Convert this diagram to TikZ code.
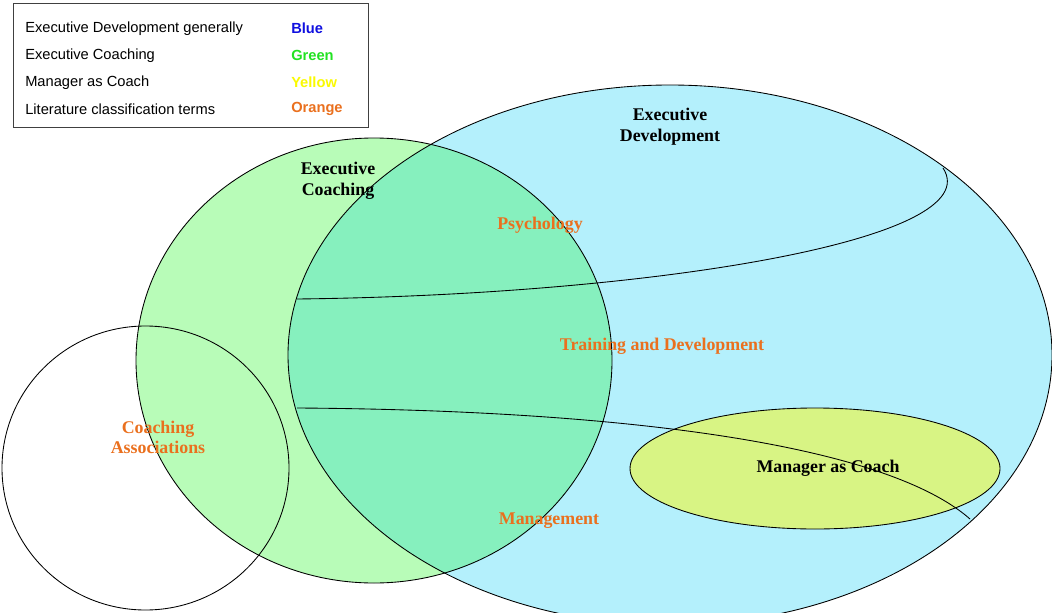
\documentclass[tikz,border=0pt]{standalone}
\usepackage{fontspec}
\setmainfont{Liberation Serif}
\setsansfont{Liberation Sans}
\usetikzlibrary{positioning}
\definecolor{devblue}{RGB}{180,240,252}
\definecolor{coachgreen}{RGB}{184,252,184}
\definecolor{overlapgreen}{RGB}{134,240,190}
\definecolor{mgryellow}{RGB}{216,244,132}
\definecolor{termorange}{RGB}{234,112,30}
\definecolor{keyblue}{RGB}{16,16,224}
\definecolor{keygreen}{RGB}{34,226,34}
\definecolor{keyyellow}{RGB}{250,250,0}

\begin{document}
\begin{tikzpicture}[
    x=0.75pt, y=-0.75pt,
    outline/.style={draw=black, line width=0.65pt},
    title/.style={align=center, inner sep=0pt, font=\bfseries\fontsize{13.4}{15.5}\selectfont},
    term/.style={title, text=termorange},
    key/.style={anchor=west, inner sep=0pt, font=\sffamily\fontsize{11}{13}\selectfont},
    keycol/.style={key, font=\sffamily\bfseries\fontsize{11}{13}\selectfont}
]
\useasboundingbox (0,0) rectangle (1052,613);

% Areas
\coordinate (dev) at (670,355);
\coordinate (coach) at (374,360.5);
\coordinate (assoc) at (145.5,468);
\coordinate (mgr) at (815,468.5);

\fill[devblue] (dev) ellipse [x radius=382, y radius=270];
\fill[coachgreen] (coach) ellipse [x radius=238, y radius=222.5];
\begin{scope}
  \clip (coach) ellipse [x radius=238, y radius=222.5];
  \fill[overlapgreen] (dev) ellipse [x radius=382, y radius=270];
\end{scope}
\fill[mgryellow] (mgr) ellipse [x radius=185, y radius=60.5];

\draw[outline] (dev) ellipse [x radius=382, y radius=270];
\draw[outline] (coach) ellipse [x radius=238, y radius=222.5];
\draw[outline] (assoc) ellipse [x radius=143.5, y radius=142];
\draw[outline] (mgr) ellipse [x radius=185, y radius=60.5];

% Labels
\node[title] (devlabel) at (670,127) {Executive\\Development};
\node[title] (coachlabel) at (338,181) {Executive\\Coaching};
\node[title] (mgrlabel) at (828,468) {Manager as Coach};
\node[term] (psych) at (540,225) {Psychology};
\node[term] (training) at (662,346) {Training and Development};
\node[term] (assoclabel) at (158,437.5) {Coaching\\Associations};
\node[term] (mgmt) at (549,521) {Management};

% Dividing curves
\coordinate (upA) at (297,299);
\coordinate (upB) at (943,168);
\coordinate (lowA) at (297,408);
\coordinate (lowB) at (970,519);
\draw[outline] (upA) .. controls (650,295) and (990,240) .. (upB);
\draw[outline] (lowA) .. controls (600,410) and (880,440) .. (lowB);

% Legend
\draw[draw=black!75, line width=0.7pt, fill=white] (13,3) rectangle (368,127);
\node[key] (key1) at (25,28.5) {Executive Development generally};
\node[key] (key2) at (25,55.5) {Executive Coaching};
\node[key] (key3) at (25,82.5) {Manager as Coach};
\node[key] (key4) at (25,109) {Literature classification terms};
\node[keycol, text=keyblue] (col1) at (291,28.5) {Blue};
\node[keycol, text=keygreen] (col2) at (291,55.5) {Green};
\node[keycol, text=keyyellow] (col3) at (291,82.5) {Yellow};
\node[keycol, text=termorange] (col4) at (291,109) {Orange};

\end{tikzpicture}
\end{document}
